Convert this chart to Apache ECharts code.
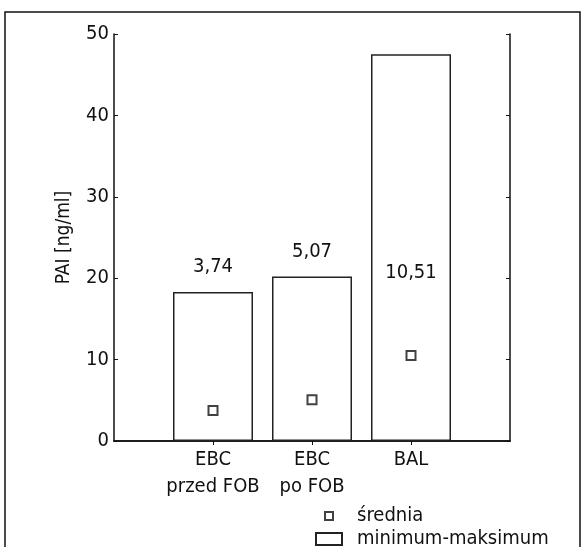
<!DOCTYPE html>
<html>
<head>
<meta charset="utf-8">
<script src="https://cdn.jsdelivr.net/npm/echarts@6/dist/echarts.min.js"></script>
<style>
  html, body { margin: 0; padding: 0; background: #fff; }
  #chart { width: 581px; height: 547px; }
</style>
</head>
<body>
<div id="chart"></div>
<script>
// dane
var categories = ['EBC\nprzed FOB', 'EBC\npo FOB', 'BAL'];
var maxima = [18.3, 20.2, 47.5];
var means = [3.74, 5.07, 10.51];
var meanLabels = ['3,74', '5,07', '10,51'];
var yTicks = [0, 10, 20, 30, 40, 50];

var FONT = '"Liberation Sans Narrow", "DejaVu Sans Condensed", "Roboto Condensed", sans-serif';

// pusta kategoria na początku i na końcu osi
var axisCats = [''].concat(categories, ['']);
var barData = [null];
var meanData = [null];
for (var i = 0; i < categories.length; i++) {
  var item = { value: maxima[i], label: { formatter: meanLabels[i] } };
  if (i === 2) {
    item.label.position = 'insideTop';
    item.label.distance = 208;
  }
  barData.push(item);
  meanData.push(means[i]);
}
barData.push(null);
meanData.push(null);

function innerTick(idx) { return idx > 0 && idx < axisCats.length - 1; }

var chart = echarts.init(document.getElementById('chart'));
chart.setOption({
  animation: false,
  textStyle: { fontFamily: FONT },
  graphic: [{
    type: 'rect',
    shape: { x: 5, y: 12, width: 575, height: 600 },
    style: { fill: 'none', stroke: '#111', lineWidth: 1.5 }
  }],
  grid: { left: 114, right: 71, top: 34, bottom: 106 },
  legend: [
    {
      data: ['średnia'],
      left: 319, top: 501,
      itemWidth: 8, itemHeight: 8,
      textStyle: { fontFamily: FONT, fontSize: 20, color: '#111', padding: [0, 0, 0, 19] }
    },
    {
      data: [{ name: 'minimum-maksimum', icon: 'rect' }],
      left: 310, top: 524,
      itemWidth: 26, itemHeight: 12,
      textStyle: { fontFamily: FONT, fontSize: 20, color: '#111', padding: [0, 0, 0, 10] }
    }
  ],
  xAxis: [
    {
      type: 'category',
      data: axisCats,
      boundaryGap: false,
      axisLine: { lineStyle: { color: '#111', width: 1.5 } },
      axisTick: { inside: true, length: 4, interval: innerTick, lineStyle: { color: '#111' } },
      axisLabel: { interval: 0, fontFamily: FONT, fontSize: 20, color: '#111', lineHeight: 27, margin: 5 }
    },
    {
      type: 'category',
      position: 'top',
      data: axisCats,
      boundaryGap: false,
      axisLine: { lineStyle: { color: '#111', width: 1.5 } },
      axisTick: { inside: true, length: 4, interval: innerTick, lineStyle: { color: '#111' } },
      axisLabel: { show: false }
    }
  ],
  yAxis: [
    {
      type: 'value',
      min: yTicks[0],
      max: yTicks[yTicks.length - 1],
      interval: 10,
      name: 'PAI [ng/ml]',
      nameLocation: 'middle',
      nameGap: 40,
      nameTextStyle: { fontFamily: FONT, fontSize: 19, color: '#111' },
      axisLine: { show: true, lineStyle: { color: '#111', width: 1.5 } },
      axisTick: { show: true, inside: true, length: 4, lineStyle: { color: '#111' } },
      axisLabel: { fontFamily: FONT, fontSize: 20, color: '#111', margin: 5 },
      splitLine: { show: false }
    },
    {
      type: 'value',
      position: 'right',
      min: yTicks[0],
      max: yTicks[yTicks.length - 1],
      interval: 10,
      axisLine: { show: true, lineStyle: { color: '#111', width: 1.5 } },
      axisTick: { show: true, inside: true, length: 4, lineStyle: { color: '#111' } },
      axisLabel: { show: false },
      splitLine: { show: false }
    }
  ],
  series: [
    {
      name: 'minimum-maksimum',
      type: 'bar',
      data: barData,
      barWidth: 80,
      itemStyle: { color: '#fff', borderColor: '#222', borderWidth: 1.5 },
      label: {
        show: true,
        position: 'top',
        distance: 15,
        fontFamily: FONT,
        fontSize: 20,
        color: '#111'
      },
      z: 2
    },
    {
      name: 'średnia',
      type: 'scatter',
      data: meanData,
      symbol: 'rect',
      symbolSize: 9,
      itemStyle: { color: '#fff', borderColor: '#111', borderWidth: 2 },
      z: 3
    }
  ]
});
</script>
</body>
</html>
